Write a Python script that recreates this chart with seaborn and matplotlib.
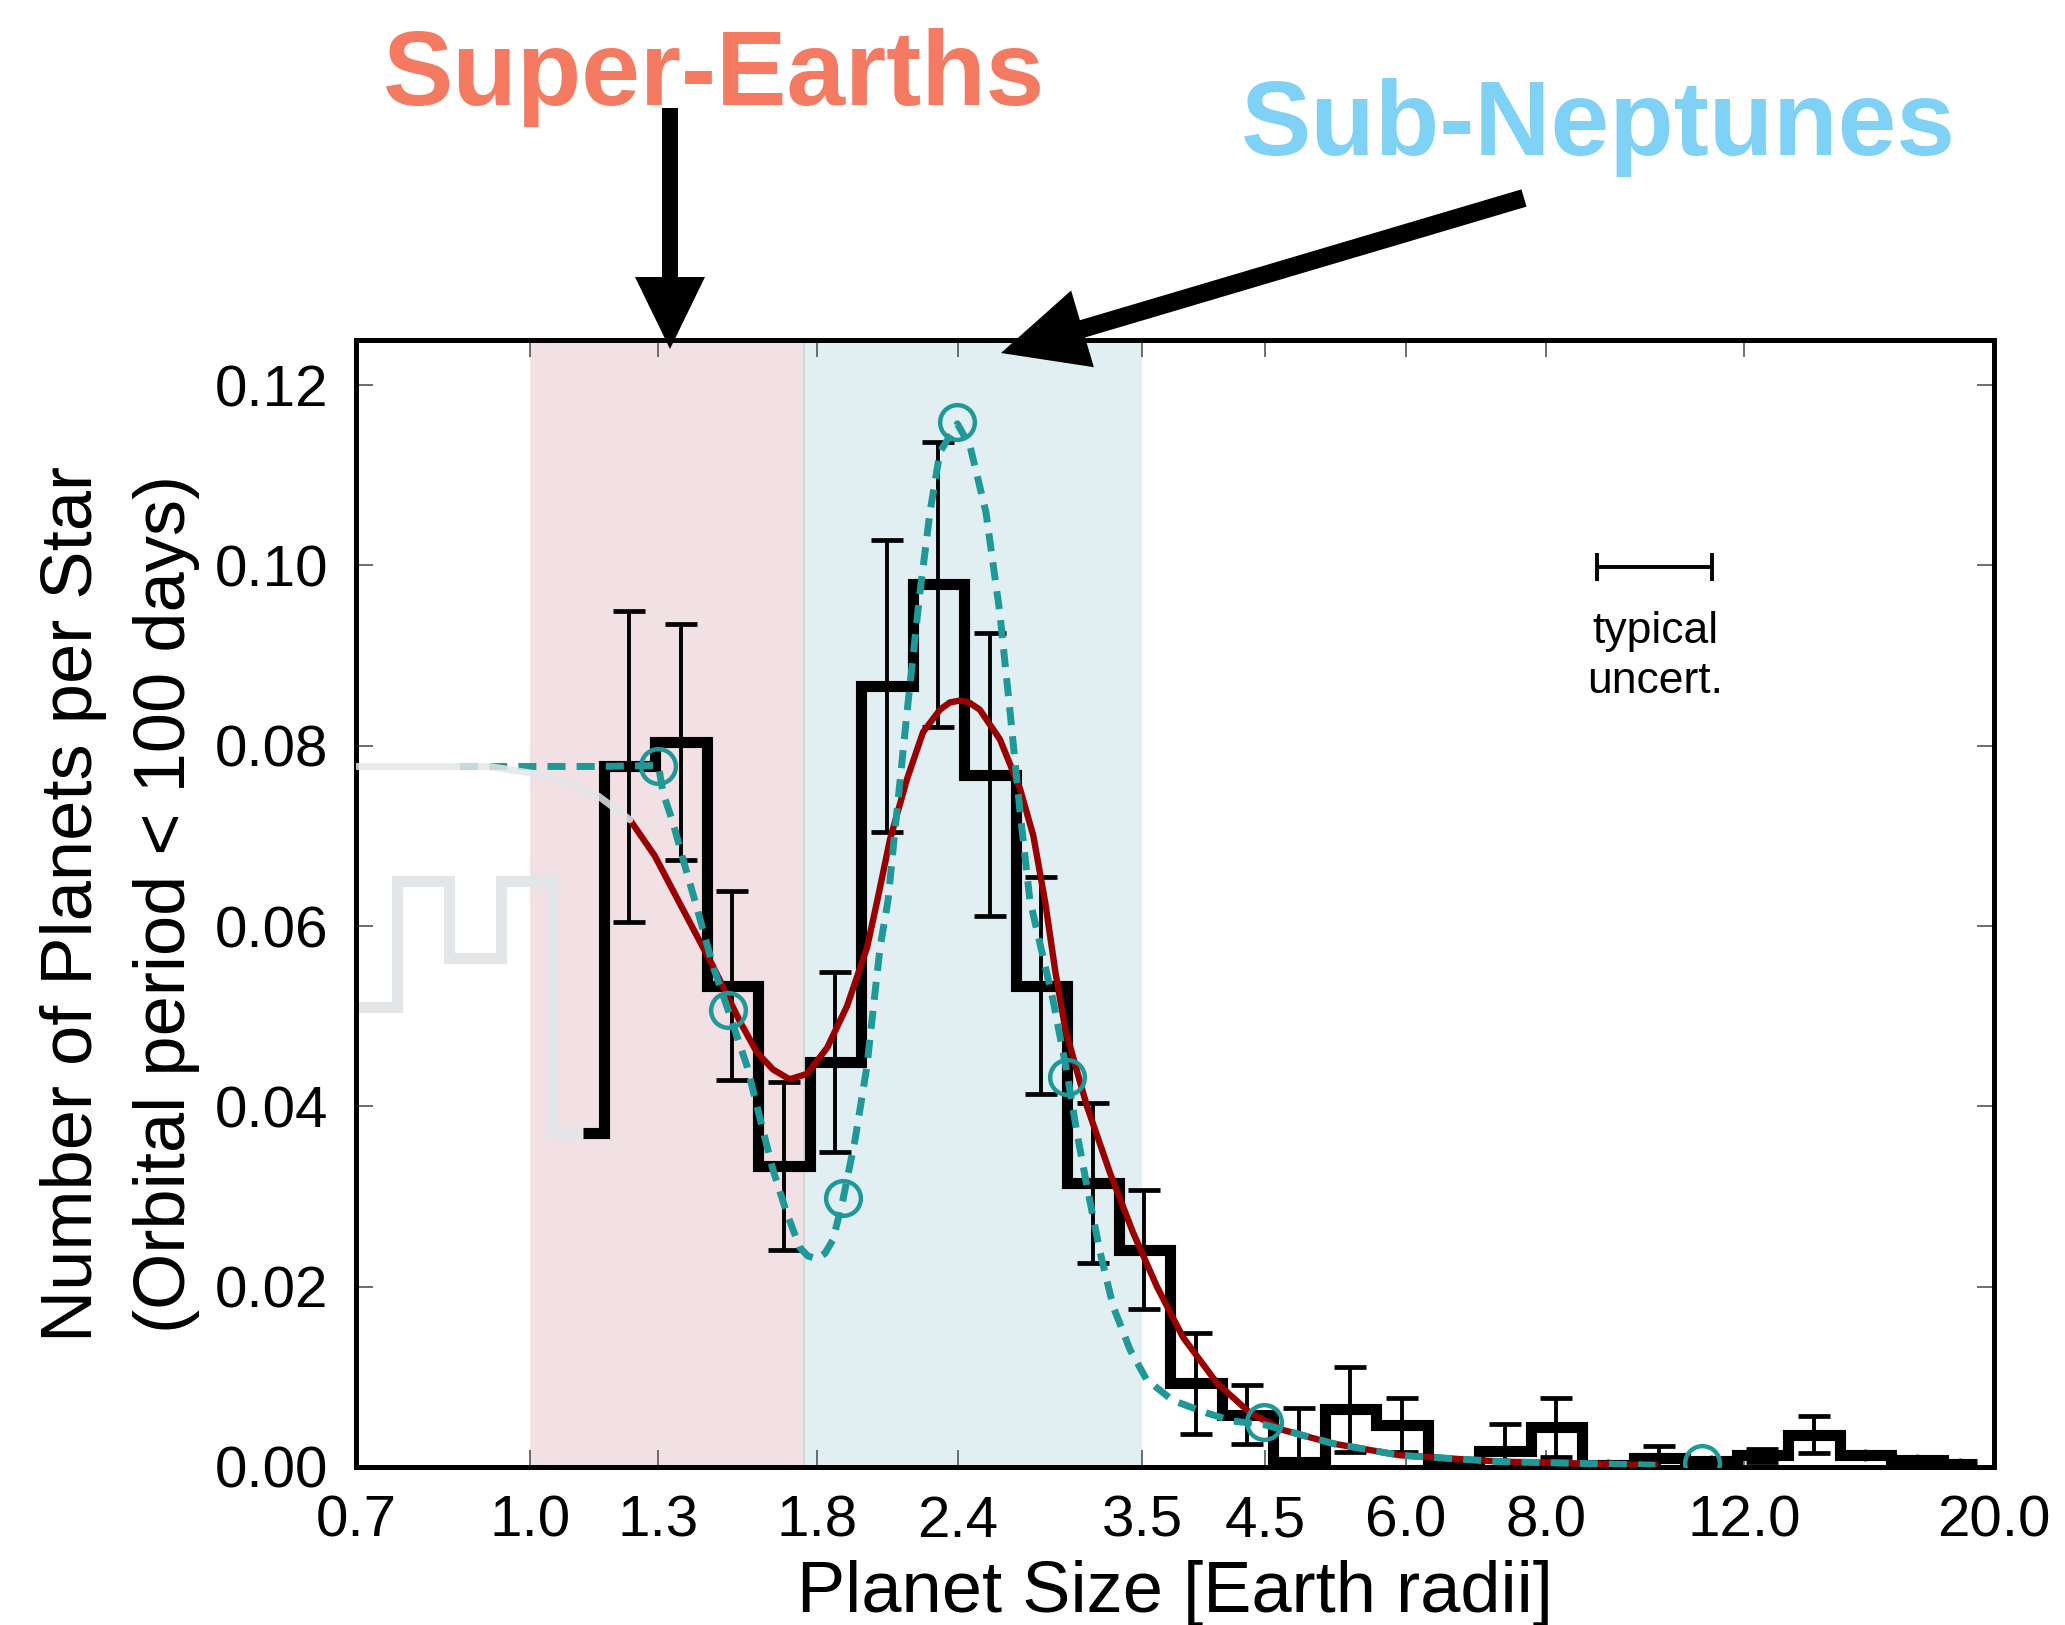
import numpy as np
import pandas as pd
import seaborn as sns
import matplotlib.pyplot as plt
from matplotlib.patches import FancyArrow
from matplotlib.ticker import NullLocator, FixedLocator

# occurrence histogram, low-completeness part (grey)
grey_edges = [0.686, 0.762, 0.847, 0.941, 1.046, 1.114]
grey_rate = [0.051, 0.065, 0.0565, 0.065, 0.037]

# occurrence histogram (black), bin edges in Earth radii
hist_edges = [1.114, 1.162, 1.291, 1.435, 1.594, 1.771, 1.968, 2.187, 2.430,
              2.700, 3.000, 3.334, 3.704, 4.116, 4.573, 5.082, 5.646, 6.274,
              6.971, 7.746, 8.607, 9.564, 10.63, 11.81, 13.12, 14.58, 16.20,
              18.00, 19.3]
hist_rate = [0.037, 0.0777, 0.0804, 0.0534, 0.0334, 0.0449, 0.0866, 0.0979,
             0.0768, 0.0534, 0.0315, 0.0241, 0.0093, 0.0058, 0.0005, 0.0064,
             0.0047, 0.0002, 0.0018, 0.0044, 0.0002, 0.0010, 0.0007, 0.0013,
             0.0036, 0.0013, 0.0008, 0.0003]
# errors for every full bin (first partial bin has none)
hist_err = [0.0172, 0.0131, 0.0105, 0.0093, 0.0100, 0.0162, 0.0158, 0.0157,
            0.0120, 0.0089, 0.0066, 0.0056, 0.0033, 0.0060, 0.0047, 0.0030,
            0.0, 0.0030, 0.0033, 0.0, 0.0013, 0.0, 0.0007, 0.0021, 0.0, 0.0,
            0.0]

# smooth model (dark red)
red_x = [1.226, 1.29, 1.358, 1.454, 1.536, 1.59, 1.643, 1.70, 1.762, 1.836,
         1.912, 1.992, 2.035, 2.088, 2.162, 2.234, 2.313, 2.36, 2.408, 2.455,
         2.509, 2.615, 2.725, 2.80, 2.87, 2.93, 2.99, 3.06, 3.125, 3.276,
         3.434, 3.606, 3.803, 4.078, 4.363, 4.669, 5.169, 5.929, 7.27, 10.0]
red_y = [0.0718, 0.0678, 0.0625, 0.0555, 0.0494, 0.0460, 0.0441, 0.0430,
         0.0436, 0.0465, 0.0511, 0.0576, 0.0629, 0.0696, 0.0763, 0.0815,
         0.0840, 0.0848, 0.0850, 0.0848, 0.0840, 0.0807, 0.0752, 0.0700,
         0.0625, 0.0548, 0.0485, 0.0440, 0.0400, 0.0326, 0.0260, 0.0200,
         0.0144, 0.0093, 0.0060, 0.0041, 0.0026, 0.0013, 0.0006, 0.0002]

# faded continuation of the model below the completeness limit
fade_x = [0.7, 0.92, 1.02, 1.09, 1.15, 1.226]
fade_y = [0.0777, 0.0777, 0.0768, 0.0757, 0.0744, 0.0718]

# spline model (teal dashed) and its knots
teal_x = [0.866, 1.0, 1.15, 1.30, 1.312, 1.339, 1.367, 1.40, 1.454, 1.50,
          1.558, 1.600, 1.643, 1.691, 1.737, 1.765, 1.798, 1.828, 1.858,
          1.896, 1.944, 1.992, 2.02, 2.046, 2.08, 2.10, 2.162, 2.22, 2.266,
          2.313, 2.397, 2.46, 2.541, 2.614, 2.67, 2.725, 2.78, 2.915, 3.0,
          3.062, 3.125, 3.21, 3.297, 3.413, 3.53, 3.723, 3.99, 4.21, 4.49,
          5.169, 5.929, 7.27, 10.0]
teal_y = [0.0777, 0.0777, 0.0777, 0.0778, 0.0748, 0.0715, 0.0674, 0.0629,
          0.0555, 0.0506, 0.0445, 0.0387, 0.0330, 0.0281, 0.0243, 0.0234,
          0.0231, 0.0237, 0.0252, 0.0296, 0.0363, 0.0445, 0.0514, 0.0576,
          0.0629, 0.0682, 0.0837, 0.0970, 0.1059, 0.1126, 0.1157, 0.1132,
          0.1059, 0.0948, 0.0837, 0.0726, 0.0629, 0.0518, 0.0437, 0.0370,
          0.0311, 0.0238, 0.0178, 0.0130, 0.0097, 0.0074, 0.0060, 0.0051,
          0.0047, 0.0026, 0.0013, 0.0006, 0.0002]
knot_x = [1.30, 1.50, 1.896, 2.397, 3.0, 4.49, 11.0]
knot_y = [0.0778, 0.0507, 0.0298, 0.1159, 0.0433, 0.0050, 0.0004]

# typical uncertainty bar
typ_x, typ_y, typ_lo, typ_hi = 10.0, 0.0998, 8.88, 11.22

x_ticks = [0.7, 1.0, 1.3, 1.8, 2.4, 3.5, 4.5, 6.0, 8.0, 12.0, 20.0]
y_ticks = [0.00, 0.02, 0.04, 0.06, 0.08, 0.10, 0.12]

TEAL = "#1f9898"
RED = "#990000"
GREY = "#e3e6e8"

sns.set_theme(style="ticks", rc={"text.color": "black",
                                 "axes.labelcolor": "black",
                                 "xtick.color": "black",
                                 "ytick.color": "black"})
plt.rcParams["font.family"] = ["Liberation Sans", "DejaVu Sans"]

W, H = 2065, 1625
fig = plt.figure(figsize=(W / 100, H / 100), dpi=100)
ax = fig.add_axes([356 / W, 1 - 1467 / H, 1638 / W, 1127 / H])
ax.set_xscale("log")
ax.set_xlim(0.7, 20.0)
ax.set_ylim(0, 0.125)

ax.axvspan(1.0, 1.75, color="#f1e0e4", lw=0, zorder=0)
ax.axvspan(1.75, 3.5, color="#e1eff3", lw=0, zorder=0)
ax.axvline(1.75, color="#d3d7d9", lw=1.5, zorder=0.5)

ax.stairs(grey_rate, grey_edges, baseline=None, color=GREY, lw=8, zorder=2)

ax.stairs(hist_rate, hist_edges, baseline=None, color="black", lw=8,
          zorder=3)
edges = np.array(hist_edges[1:])
centers = np.sqrt(edges[:-1] * edges[1:])
ax.errorbar(centers, hist_rate[1:], yerr=hist_err, fmt="o", ms=7.5,
            color="black", elinewidth=2.8, capsize=11.5, capthick=3.4,
            zorder=4)

sns.lineplot(data=pd.DataFrame({"r": red_x, "f": red_y}), x="r", y="f",
             ax=ax, color=RED, lw=4.6, sort=False, estimator=None, zorder=5)
sns.lineplot(data=pd.DataFrame({"r": teal_x, "f": teal_y}), x="r", y="f",
             ax=ax, color=TEAL, lw=5, linestyle=(0, (2.6, 1.6)),
             sort=False, estimator=None, zorder=6)
sns.lineplot(data=pd.DataFrame({"r": fade_x, "f": fade_y}), x="r", y="f",
             ax=ax, color=GREY, lw=5, alpha=0.85, sort=False, estimator=None,
             zorder=6.5)
ax.plot(knot_x, knot_y, "o", ms=25, mfc="none", mec=TEAL, mew=3.2, zorder=7)

ax.errorbar([typ_x], [typ_y], xerr=[[typ_x - typ_lo], [typ_hi - typ_x]],
            fmt="none", ecolor="black", elinewidth=2.8, capsize=10,
            capthick=2.8)
ax.text(typ_x, 0.0914, "typical", ha="center", va="baseline", fontsize=32)
ax.text(typ_x, 0.0858, "uncert.", ha="center", va="baseline", fontsize=32)

ax.xaxis.set_major_locator(FixedLocator(x_ticks))
ax.xaxis.set_minor_locator(NullLocator())
ax.set_xticklabels([f"{t:.1f}" for t in x_ticks])
ax.set_yticks(y_ticks)
ax.set_yticklabels([f"{t:.2f}" for t in y_ticks])
ax.tick_params(axis="both", which="major", direction="in", length=12,
               width=1.2, color="#555555", labelsize=42, pad=20,
               top=True, right=True, labelcolor="black")
for s in ax.spines.values():
    s.set_linewidth(3.6)
    s.set_color("black")

ax.set_xlabel("Planet Size [Earth radii]", fontsize=52, color="black")
ax.xaxis.set_label_coords(0.5, (1467 - 1560) / 1127)
ax.set_ylabel("Number of Planets per Star\n(Orbital period < 100 days)",
              fontsize=52, linespacing=1.5, va="center", color="black")
ax.yaxis.set_label_coords((120 - 356) / 1638, 0.5)

# annotation layer in pixel coordinates
top = fig.add_axes([0, 0, 1, 1], facecolor="none", zorder=10)
top.set_xlim(0, W)
top.set_ylim(H, 0)
top.axis("off")
top.text(714, 105, "Super-Earths", ha="center", va="baseline", fontsize=76,
         fontweight="bold", color="#f47a61")
top.text(1598, 155, "Sub-Neptunes", ha="center", va="baseline", fontsize=76,
         fontweight="bold", color="#7fd2f5")
top.add_patch(FancyArrow(670, 108, 0, 241, width=16, head_width=70,
                         head_length=72, length_includes_head=True,
                         color="black", lw=0))
top.add_patch(FancyArrow(1524, 198, -523, 155, width=18, head_width=80,
                         head_length=85, length_includes_head=True,
                         color="black", lw=0))

fig.savefig("out.png", dpi=100)
